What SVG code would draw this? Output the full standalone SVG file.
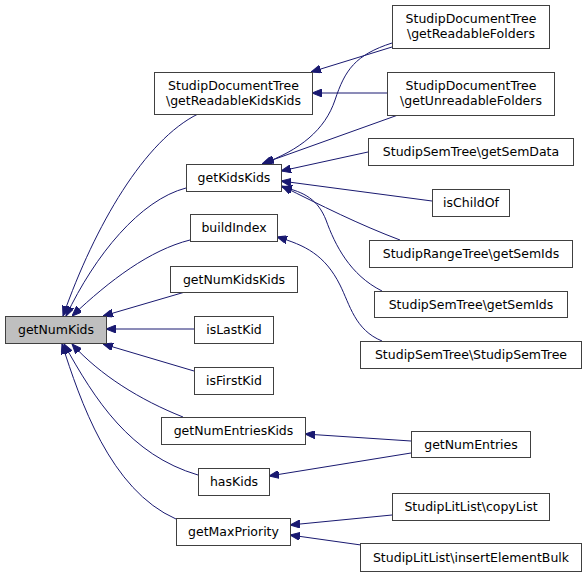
<svg xmlns="http://www.w3.org/2000/svg" width="587" height="576" viewBox="0 0 587 576">
<style>
.n rect{fill:#ffffff;stroke:#404040;stroke-width:1}
.n text{font-family:"DejaVu Sans",sans-serif;font-size:12.5px;fill:#000000;text-anchor:middle}
#getNumKids rect{fill:#bfbfbf}
.e path{fill:none;stroke:#191970;stroke-width:1;marker-end:url(#ah)}
</style>
<defs>
<marker id="ah" viewBox="0 0 10 8" refX="10" refY="4" markerWidth="10" markerHeight="8" markerUnits="userSpaceOnUse" orient="auto">
<path d="M0,0 L10,4 L0,8 z" fill="#191970" stroke="#191970" stroke-width="1"/>
</marker>
</defs>
<rect width="587" height="576" fill="#ffffff"/>
<g class="e">
<path d="M198,114 C145,140 95,225 63,316"/>
<path d="M186,188 C140,200 95,255 66,316"/>
<path d="M190,240 C150,250 110,280 72,316"/>
<path d="M185,292 L103,316"/>
<path d="M194,329 L106,329"/>
<path d="M194,371 L103,344"/>
<path d="M183,417 C140,400 100,375 72,344"/>
<path d="M198,475 C130,455 95,400 64,344"/>
<path d="M176,519 C110,490 80,400 62,344"/>
<path d="M392,47 L311,72"/>
<path d="M387,93 L312,93"/>
<path d="M392,43 C355,55 345,70 335,100 C325,130 300,150 262,164"/>
<path d="M398,115 L264,163"/>
<path d="M368,152 L281,171"/>
<path d="M432,201 L281,181"/>
<path d="M400,240 C360,225 320,205 282,186"/>
<path d="M382,291 C350,275 335,245 326,220 C318,200 305,192 282,187"/>
<path d="M382,341 C355,330 350,305 340,285 C325,255 305,245 277,237"/>
<path d="M411,441 L305,434"/>
<path d="M411,453 L269,476"/>
<path d="M392,515 L290,525"/>
<path d="M361,545 L290,535"/>
</g>
<g id="getNumKids" class="n"><rect x="5.5" y="316.5" width="101" height="27"/><text x="56" y="334">getNumKids</text></g>
<g id="getReadableKidsKids" class="n"><rect x="154.5" y="72.5" width="158" height="42"/><text x="233.5" y="90">StudipDocumentTree</text><text x="233.5" y="105">\getReadableKidsKids</text></g>
<g id="getKidsKids" class="n"><rect x="186.5" y="164.5" width="95" height="27"/><text x="234" y="182">getKidsKids</text></g>
<g id="buildIndex" class="n"><rect x="190.5" y="214.5" width="87" height="27"/><text x="234" y="232">buildIndex</text></g>
<g id="getNumKidsKids" class="n"><rect x="170.5" y="266.5" width="127" height="26"/><text x="234" y="284">getNumKidsKids</text></g>
<g id="isLastKid" class="n"><rect x="194.5" y="316.5" width="79" height="27"/><text x="234" y="334">isLastKid</text></g>
<g id="isFirstKid" class="n"><rect x="194.5" y="367.5" width="79" height="27"/><text x="234" y="385">isFirstKid</text></g>
<g id="getNumEntriesKids" class="n"><rect x="161.5" y="417.5" width="144" height="27"/><text x="233.5" y="435">getNumEntriesKids</text></g>
<g id="hasKids" class="n"><rect x="198.5" y="468.5" width="71" height="27"/><text x="234" y="486">hasKids</text></g>
<g id="getMaxPriority" class="n"><rect x="176.5" y="518.5" width="114" height="27"/><text x="233.5" y="536">getMaxPriority</text></g>
<g id="getReadableFolders" class="n"><rect x="392.5" y="5.5" width="157" height="43"/><text x="471" y="23">StudipDocumentTree</text><text x="471" y="38">\getReadableFolders</text></g>
<g id="getUnreadableFolders" class="n"><rect x="387.5" y="72.5" width="167" height="43"/><text x="471" y="90">StudipDocumentTree</text><text x="471" y="105">\getUnreadableFolders</text></g>
<g id="getSemData" class="n"><rect x="368.5" y="138.5" width="205" height="27"/><text x="471" y="156">StudipSemTree\getSemData</text></g>
<g id="isChildOf" class="n"><rect x="432.5" y="189.5" width="77" height="27"/><text x="471" y="207">isChildOf</text></g>
<g id="rangeGetSemIds" class="n"><rect x="369.5" y="240.5" width="203" height="27"/><text x="471" y="258">StudipRangeTree\getSemIds</text></g>
<g id="semGetSemIds" class="n"><rect x="374.5" y="291.5" width="193" height="26"/><text x="471" y="309">StudipSemTree\getSemIds</text></g>
<g id="StudipSemTree" class="n"><rect x="360.5" y="341.5" width="221" height="27"/><text x="471" y="359">StudipSemTree\StudipSemTree</text></g>
<g id="getNumEntries" class="n"><rect x="411.5" y="431.5" width="119" height="26"/><text x="471" y="449">getNumEntries</text></g>
<g id="copyList" class="n"><rect x="392.5" y="493.5" width="157" height="27"/><text x="471" y="511">StudipLitList\copyList</text></g>
<g id="insertElementBulk" class="n"><rect x="360.5" y="543.5" width="221" height="28"/><text x="471" y="562">StudipLitList\insertElementBulk</text></g>
</svg>
